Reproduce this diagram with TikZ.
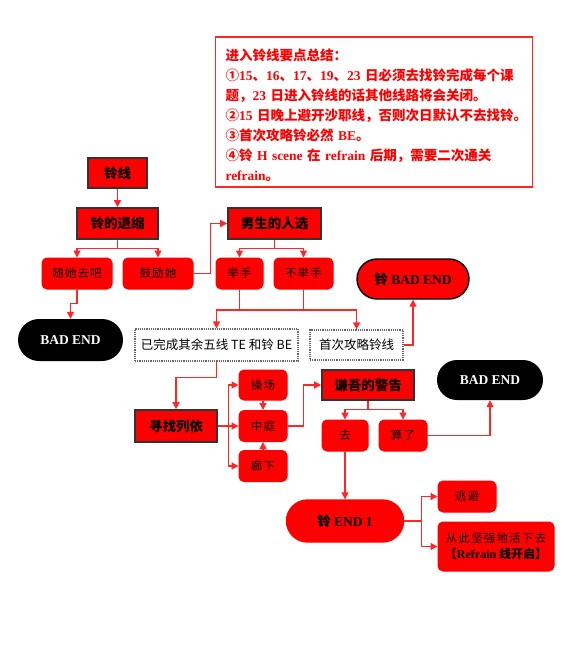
\documentclass[tikz,border=0pt]{standalone}
\usepackage{fontspec}
\usetikzlibrary{arrows.meta}
\setmainfont{Liberation Serif}
\newfontfamily\cjk{Noto Sans CJK SC}
\newfontfamily\cjks[LetterSpace=10]{Noto Sans CJK SC}
\newcommand\lat[1]{{\rmfamily\bfseries #1}}

\tikzset{
  conn/.style={draw=red!85, line width=1.3pt},
  arr/.style={conn, -{Triangle[length=7pt,width=7pt]}},
  wh/.style 2 args={minimum width=#1pt, minimum height=#2pt},
  jefe/.style={rectangle, fill=red, draw=black!80, line width=1.6pt, inner sep=0pt,
    font=\cjk\bfseries\fontsize{13.5}{15}\selectfont},
  opcion/.style={rectangle, rounded corners=5pt, fill=red, draw=red, line width=1pt,
    inner sep=0pt, text=black, font=\cjks\fontsize{11.5}{13}\selectfont},
  fin/.style={rectangle, rounded corners=20pt, fill=black, text=white, inner sep=0pt,
    font=\bfseries\fontsize{13.5}{15}\selectfont},
  finrojo/.style={fin, fill=red, text=black, draw=black, line width=1.4pt},
  cond/.style={rectangle, draw=black!60, densely dotted, line width=1.2pt, inner sep=0pt,
    font=\cjk\fontsize{12.5}{14}\selectfont},
}

\begin{document}
\begin{tikzpicture}[x=1pt, y=-1pt]
  \useasboundingbox (0,0) rectangle (580,663);

  % Nota
  \node[draw=red!85, line width=1.2pt, text=red, align=left, text width=297pt,
    inner xsep=10pt, minimum height=150pt,
    font=\cjk\bfseries\fontsize{13.5}{20.1}\selectfont] (nota) at (374,112)
    {\rule{0pt}{18pt}进入铃线要点总结：\\
     \makebox[297pt][s]{①\lat{15}、\lat{16}、\lat{17}、\lat{19}、\lat{23} 日必须去找铃完成每个课}\\
     题，\lat{23} 日进入铃线的话其他线路将会关闭。\\
     ②\lat{15} 日晚上避开沙耶线，否则次日默认不去找铃。\\
     ③首次攻略铃必然 \lat{BE}。\\
     \makebox[297pt][s]{④铃 \lat{H} \lat{scene} 在 \lat{refrain} 后期，需要二次通关}\\
     \lat{refrain}。};

  % Cajas
  \node[jefe, wh={59}{30}] (linxian) at (117.5,173) {铃线};
  \node[jefe, wh={81}{31}] (tuisuo) at (117.5,223.5) {铃的退缩};
  \node[opcion, wh={70}{31}] (suita) at (77,273.5) {随她去吧};
  \node[opcion, wh={70}{31}] (guli) at (158,273.5) {鼓励她};
  \node[jefe, wh={93}{31}] (renxuan) at (274.5,223.5) {男生的人选};
  \node[opcion, wh={47}{31}] (jushou) at (239.5,273.5) {举手};
  \node[opcion, wh={59}{31}] (bujushou) at (303.5,273.5) {不举手};
  \node[fin, wh={105}{42}, rounded corners=21pt] (bad1) at (70.5,340) {BAD END};
  \node[cond, wh={163}{32}] (wancheng) at (216.5,345) {已完成其余五线 TE 和铃 BE};
  \node[cond, wh={93}{30}] (shouci) at (356.5,345) {首次攻略铃线};
  \node[finrojo, wh={112}{40}] (linbad) at (413,279) {{\cjk\bfseries 铃}\ BAD END};
  \node[jefe, wh={82}{32}] (xunzhao) at (176,426) {寻找列依};
  \node[opcion, wh={48}{30}] (caochang) at (263,385) {操场};
  \node[opcion, wh={48}{31}] (zhongting) at (263,426) {中庭};
  \node[opcion, wh={48}{31}] (langxia) at (263,466) {廊下};
  \node[jefe, wh={92}{30}] (jinggao) at (368,385) {谦吾的警告};
  \node[opcion, wh={46}{31}] (qu) at (345,435.5) {去};
  \node[opcion, wh={48}{31}] (suanle) at (403,435.5) {算了};
  \node[fin, wh={106}{40}] (bad2) at (490,380) {BAD END};
  \node[finrojo, draw=red, rounded corners=21pt, wh={117}{42}] (end1) at (345,521)
    {{\cjk\bfseries 铃} END 1};
  \node[opcion, wh={58}{31}] (taobi) at (467,496.5) {逃避};
  \node[opcion, wh={116}{49}, align=center] (jianqiang) at (496,546.5)
    {从此坚强地活下去\\[3pt]{\cjk\bfseries\fontsize{12}{14}\selectfont 【\lat{Refrain} 线开启】}};

  % Flechas
  \draw[arr] (linxian) -- (tuisuo);
  \draw[conn] (tuisuo.south) -- ++(0,9) coordinate (t1);
  \draw[arr] (t1) -| (suita.north);
  \draw[arr] (t1) -| (guli.north);
  \draw[arr] (guli.east) -- ++(17,0) |- (renxuan.west);
  \draw[conn] (renxuan.south) -- ++(0,9) coordinate (r1);
  \draw[arr] (r1) -| (jushou.north);
  \draw[arr] (r1) -| (bujushou.north);
  \draw[arr] (suita.south) -- ++(0,14) -| (bad1.north);
  \draw[conn] (jushou.south) -- ++(0,20.5) coordinate (j1);
  \draw[conn] (bujushou.south) -- (bujushou.south |- j1);
  \draw[arr] (j1) -| (wancheng.north);
  \draw[arr] (j1) -| (shouci.north);
  \draw[arr] (shouci.east) -| (linbad.south);
  \draw[arr] (wancheng.south) -- ++(0,16) -| (xunzhao.north);
  \draw[arr] (xunzhao.east) -- (zhongting.west);
  \draw[arr] (xunzhao.east) ++(11,0) |- (caochang.west);
  \draw[arr] (xunzhao.east) ++(11,0) |- (langxia.west);
  \draw[arr] (caochang) -- (zhongting);
  \draw[arr] (langxia) -- (zhongting);
  \draw[arr] (zhongting.east) -- ++(16,0) |- (jinggao.west);
  \draw[conn] (jinggao.south) -- ++(0,9) coordinate (w1);
  \draw[arr] (w1) -| (qu.north);
  \draw[arr] (w1) -| (suanle.north);
  \draw[arr] (suanle.east) -| (bad2.south);
  \draw[arr] (qu) -- (end1);
  \draw[conn] (end1.east) -- ++(17,0) coordinate (e1);
  \draw[arr] (e1) |- (taobi.west);
  \draw[arr] (e1) |- (jianqiang.west);
\end{tikzpicture}
\end{document}
